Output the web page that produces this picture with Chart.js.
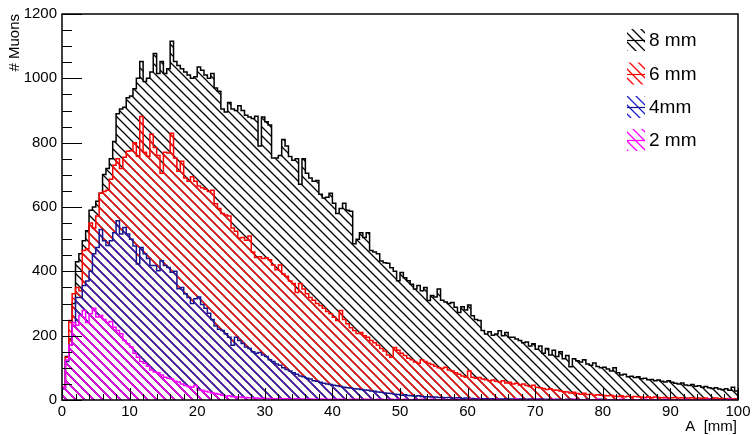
<!DOCTYPE html>
<html><head><meta charset="utf-8">
<script src="https://cdn.jsdelivr.net/npm/chart.js@4/dist/chart.umd.min.js"></script>
<style>html,body{margin:0;padding:0;background:#fff}#wrap{width:754px;height:435px}</style>
</head><body><div id="wrap"><canvas id="c" width="754" height="435"></canvas></div>
<script>
// ---- data (bin width 0.5 mm, 200 bins from 0 to 100) ----
const binWidth = 0.5;
const h8mm = [
35,135,190,300,430,455,495,526,590,600,
618,643,701,720,750,804,890,905,910,940,
945,968,1000,1052,990,1000,1020,1077,1015,1052,
1015,1030,1115,1052,1040,1030,1020,1010,1000,1005,
1035,1025,1010,1000,1015,970,960,905,895,925,
905,900,915,900,885,880,875,882,790,880,
865,855,752,752,760,810,790,757,745,750,
671,750,705,690,680,682,640,628,630,643,
612,580,595,612,590,587,486,500,520,505,
520,465,460,455,432,427,425,411,400,371,
396,380,371,360,345,356,340,350,309,325,
320,345,310,305,300,303,288,272,290,280,
295,262,250,247,216,205,212,201,205,215,
200,210,195,195,190,185,178,180,168,175,
158,168,145,160,140,155,135,150,128,138,
103,128,122,118,125,112,108,115,104,100,
102,96,90,100,85,78,80,72,74,70,
72,66,68,63,64,60,62,58,56,60,
55,52,50,53,47,45,48,43,44,40,
42,38,36,38,34,32,35,30,40,28];
const h6mm = [
40,133,247,330,350,340,465,470,550,535,
572,643,648,652,686,730,750,720,755,773,
775,800,758,881,770,758,826,785,760,705,
770,768,829,752,711,742,690,680,694,680,
665,660,655,648,652,610,595,580,575,572,
535,525,504,505,497,510,460,443,445,440,
442,436,420,405,420,392,385,370,362,334,
362,345,330,319,310,300,294,285,275,268,
257,247,278,250,237,225,216,207,210,200,
195,185,178,170,160,152,140,133,163,155,
145,138,130,125,118,114,125,120,114,110,
105,100,98,102,93,90,85,80,75,71,
90,71,68,70,65,63,60,62,58,56,
60,53,55,50,52,47,50,45,42,46,
40,38,36,33,35,31,30,28,26,25,
22,24,20,18,21,17,18,15,16,15,
14,13,15,12,11,13,10,12,9,11,
10,9,8,10,7,9,8,7,8,6,
7,8,6,7,5,6,7,5,6,5,
6,4,5,6,4,5,4,5,3,4];
const h4mm = [
38,120,170,230,319,319,356,370,400,455,
474,530,495,480,495,520,557,516,536,516,
500,479,423,474,455,440,418,418,402,433,
418,412,397,400,346,350,330,319,300,315,
320,297,285,270,250,230,220,216,206,195,
170,195,185,176,165,160,150,145,148,140,
135,125,120,112,108,100,95,90,85,80,
75,72,68,65,60,58,55,52,50,48,
46,44,42,40,38,37,35,34,33,31,
30,28,27,25,24,22,21,20,18,17,
15,16,14,13,12,13,11,10,10,9,
9,8,8,7,8,6,6,7,5,6,
5,5,4,5,4,4,3,4,4,3,
3,4,3,3,2,3,3,2,3,2,
2,3,2,2,2,1,2,2,1,2,
2,1,2,1,1,2,1,1,1,2,
1,1,1,1,1,1,1,1,1,1,
1,0,1,1,0,1,1,0,1,0,
1,0,0,1,0,1,0,0,1,0,
0,1,0,0,0,1,0,0,0,0];
const h2mm = [
40,124,170,241,232,263,278,241,268,285,
258,263,250,241,244,226,216,206,185,175,
165,145,133,120,114,105,93,87,85,78,
71,68,65,58,56,50,45,42,40,45,
31,30,27,25,22,20,18,15,12,13,
10,10,9,8,8,7,6,6,5,6,
5,5,4,4,5,3,4,3,3,4,
3,3,2,3,2,2,3,2,2,2,
3,2,2,2,1,2,2,2,1,2,
2,2,1,2,2,1,2,2,1,2,
1,2,1,1,2,1,2,1,1,2,
1,1,2,1,1,1,2,1,1,1,
2,1,1,2,1,1,1,1,2,1,
1,1,1,1,2,1,1,1,1,1,
2,1,1,1,1,2,1,1,1,1,
1,2,1,1,1,1,1,1,2,1,
1,1,1,1,1,2,1,1,1,1,
1,1,2,1,1,1,1,1,2,1,
1,1,1,1,2,1,1,1,1,1,
1,2,1,1,1,1,1,2,1,1];
const seriesNames = ['8 mm', '6 mm', '4mm', '2 mm'];
const yTickValues = [0, 200, 400, 600, 800, 1000, 1200];
const xTickValues = [0, 10, 20, 30, 40, 50, 60, 70, 80, 90, 100];
const yAxisTitle = '# Muons';
const xAxisTitle = 'A  [mm]';

// ---- styling ----
const FONT = "'Liberation Sans', Arial, Helvetica, sans-serif";
const lineColors = ['#000000', '#ff0000', '#15158f', '#ff00ff'];
const hatchColors = ['#000000', '#ff0000', '#2020c8', '#ff00ff'];

function hatch(color, s, lw) {
  const c = document.createElement('canvas');
  c.width = s; c.height = s;
  const g = c.getContext('2d');
  g.strokeStyle = color; g.lineWidth = lw;
  g.beginPath();
  g.moveTo(-1, -1); g.lineTo(s + 1, s + 1);
  g.moveTo(-1, s - 1); g.lineTo(1, s + 1);
  g.moveTo(s - 1, -1); g.lineTo(s + 1, 1);
  g.stroke();
  return g.createPattern(c, 'repeat');
}
const patterns = hatchColors.map(c => hatch(c, 9, 1.3));

function toSteps(values) {
  const pts = [{x: 0, y: 0}];
  values.forEach((v, i) => pts.push({x: i * binWidth, y: v}));
  const end = values.length * binWidth;
  pts.push({x: end, y: values[values.length - 1]});
  pts.push({x: end, y: 0});
  return pts;
}

const allSeries = [h8mm, h6mm, h4mm, h2mm];
const datasets = allSeries.map((vals, k) => ({
  label: seriesNames[k],
  data: toSteps(vals),
  stepped: 'before',
  fill: 'origin',
  backgroundColor: patterns[k],
  borderColor: lineColors[k],
  borderWidth: 1.5,
  pointRadius: 0,
  order: 4 - k
}));

const framePlugin = {
  id: 'rootFrame',
  afterDraw(chart) {
    const ctx = chart.ctx, ca = chart.chartArea;
    const xs = chart.scales.x, ys = chart.scales.y;
    ctx.save();
    ctx.strokeStyle = '#000'; ctx.lineWidth = 1;
    ctx.beginPath();
    for (let v = ys.min; v <= ys.max; v += 50) {
      const y = Math.round(ys.getPixelForValue(v)) + 0.5;
      const len = (v % 200 === 0) ? 20 : 10;
      ctx.moveTo(ca.left, y); ctx.lineTo(ca.left + len, y);
    }
    for (let v = xs.min; v <= xs.max; v += 2) {
      const x = Math.round(xs.getPixelForValue(v)) + 0.5;
      const len = (v % 10 === 0) ? 12 : 6;
      ctx.moveTo(x, ca.bottom); ctx.lineTo(x, ca.bottom - len);
    }
    ctx.stroke();
    ctx.lineWidth = 1.5;
    ctx.strokeRect(ca.left, ca.top, ca.right - ca.left, ca.bottom - ca.top);
    ctx.fillStyle = '#000';
    ctx.font = '15px ' + FONT;
    ctx.textAlign = 'right'; ctx.textBaseline = 'alphabetic';
    ctx.fillText(xAxisTitle, ca.right - 1, 431);
    ctx.save();
    ctx.translate(19, ca.top);
    ctx.rotate(-Math.PI / 2);
    ctx.textAlign = 'right'; ctx.textBaseline = 'alphabetic';
    ctx.fillText(yAxisTitle, 0, 0);
    ctx.restore();
    const rows = [40, 73.5, 107, 140];
    ctx.font = '19px ' + FONT;
    ctx.textAlign = 'left'; ctx.textBaseline = 'middle';
    rows.forEach((yc, k) => {
      const x0 = 627, w = 18, h = 22;
      ctx.fillStyle = patterns[k];
      ctx.fillRect(x0, yc - h / 2, w, h);
      ctx.strokeStyle = lineColors[k]; ctx.lineWidth = 1.2;
      ctx.beginPath(); ctx.moveTo(x0, Math.round(yc) + 0.5); ctx.lineTo(x0 + w, Math.round(yc) + 0.5); ctx.stroke();
      ctx.fillStyle = '#000';
      ctx.fillText(seriesNames[k], 649, yc + 1);
    });
    ctx.restore();
  }
};

new Chart(document.getElementById('c'), {
  type: 'line',
  data: {datasets},
  options: {
    responsive: false, animation: false, devicePixelRatio: 1,
    layout: {padding: {top: 12, right: 16, left: 0, bottom: 0}},
    plugins: {legend: {display: false}, tooltip: {enabled: false}},
    elements: {point: {radius: 0}, line: {tension: 0}},
    scales: {
      x: {
        type: 'linear', min: 0, max: 100,
        grid: {display: false, drawTicks: false}, border: {display: false},
        afterBuildTicks: s => { s.ticks = xTickValues.map(v => ({value: v})); },
        afterFit: s => { s.height = 35; },
        ticks: {padding: 3, color: '#000', font: {family: FONT, size: 15}, maxRotation: 0, autoSkip: false, callback: v => String(v)}
      },
      y: {
        type: 'linear', min: 0, max: 1200,
        grid: {display: false, drawTicks: false}, border: {display: false},
        afterBuildTicks: s => { s.ticks = yTickValues.map(v => ({value: v})); },
        afterFit: s => { s.width = 62; },
        ticks: {padding: 5, color: '#000', font: {family: FONT, size: 15}, callback: v => String(v)}
      }
    }
  },
  plugins: [framePlugin]
});
</script></body></html>
